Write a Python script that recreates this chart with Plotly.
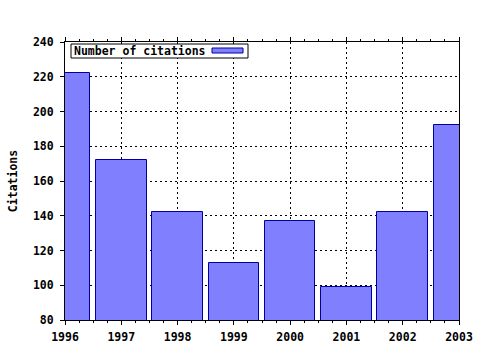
import plotly.graph_objects as go

years = [1996, 1997, 1998, 1999, 2000, 2001, 2002, 2003]
citations = [222, 172, 142, 113, 137, 99, 142, 192]
y_ticks = [80, 100, 120, 140, 160, 180, 200, 220, 240]
series_name = "Number of citations"
y_title = "Citations"

FONT = "DejaVu Sans Mono"

fig = go.Figure()
fig.add_trace(go.Bar(
    x=years, y=citations, width=0.9, name=series_name,
    marker=dict(color="#8080ff", line=dict(color="#0000a0", width=1)),
    showlegend=False,
))

fig.update_layout(
    width=480, height=350,
    margin=dict(l=65, r=21, t=42, b=30),
    paper_bgcolor="white", plot_bgcolor="white",
    font=dict(family=FONT, size=11.5, color="black"),
    bargap=0,
    xaxis=dict(
        range=[1996, 2003], tickvals=years, ticktext=[f"<b>{y}</b>" for y in years],
        showline=True, linecolor="black", linewidth=1, mirror="ticks",
        ticks="outside", ticklen=4, tickcolor="black", ticklabelstandoff=2,
        minor=dict(dtick=0.25, ticks="outside", ticklen=2, tickcolor="black", showgrid=False),
        showgrid=True, gridcolor="black", griddash="2px,3px", gridwidth=1,
        zeroline=False, layer="below traces", automargin=False,
    ),
    yaxis=dict(
        range=[80, 240], tickvals=y_ticks, ticktext=[f"<b>{v}</b>" for v in y_ticks],
        showline=True, linecolor="black", linewidth=1, mirror=True,
        ticks="outside", ticklen=4, tickcolor="black", ticklabelstandoff=4,
        showgrid=True, gridcolor="black", griddash="2px,3px", gridwidth=1,
        zeroline=False, automargin=False,
        title=dict(text=f"<b>{y_title}</b>", standoff=12, font=dict(size=11.5)),
    ),
)

# legend box drawn manually (text followed by swatch)
fig.add_shape(type="rect", xref="paper", yref="paper",
              x0=6/394, x1=183/394, y0=1-16/278, y1=1-2/278,
              line=dict(color="black", width=1), fillcolor="white", layer="above")
fig.add_shape(type="rect", xref="paper", yref="paper",
              x0=147/394, x1=178/394, y0=1-11/278, y1=1-6/278,
              line=dict(color="#0000a0", width=1), fillcolor="#8080ff", layer="above")
fig.add_annotation(xref="paper", yref="paper", x=7/394, y=1-9/278,
                   text=f"<b>{series_name}</b>", showarrow=False,
                   xanchor="left", yanchor="middle", font=dict(size=11.5, family=FONT))

fig.write_html("out.html")
